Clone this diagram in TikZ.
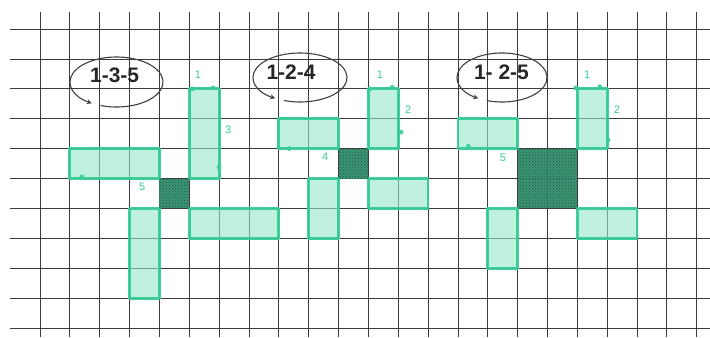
\documentclass[tikz,border=0pt]{standalone}
\usepackage{fontspec}
\setmainfont{Liberation Sans}
\usetikzlibrary{arrows.meta,patterns}
\definecolor{gline}{RGB}{55,205,150}
\definecolor{gfill}{RGB}{150,230,200}
\definecolor{gdark}{RGB}{45,140,105}
\definecolor{gdarker}{RGB}{20,90,65}
\definecolor{gridc}{RGB}{60,60,60}
\begin{document}
\begin{tikzpicture}[x=29.85pt,y=-29.9pt,
  gridline/.style={gridc,line width=0.75pt},
  arm/.style={draw=gline,line width=2.8pt,fill=gfill,fill opacity=0.6,draw opacity=0.95,line join=round},
  core/.style={fill=gdark,fill opacity=0.92},
  corepat/.style={pattern=crosshatch dots,pattern color=gdarker},
  title/.style={font=\fontsize{21}{21}\selectfont\bfseries,text=black!85,inner sep=0pt},
  loopline/.style={black!75,line width=1.1pt,-{Stealth[length=5pt,width=5pt]}},
  num/.style={font=\fontsize{11}{11}\selectfont,text=gline,inner sep=0pt},
  tick/.style={fill=gline,opacity=0.9}
]
\useasboundingbox (-1.340,-0.970) rectangle (22.445,10.301);
\fill[white] (-1.340,-0.970) rectangle (22.445,10.301);

% grid
\foreach \k in {0,...,22} \draw[gridline] (\k,-0.57) -- (\k,10.301);
\foreach \r in {0,...,10} \draw[gridline] (-1.005,\r) -- (22.445,\r);

% ---------- figure 1 : 1-3-5
\filldraw[arm] (5,2) rectangle (6,5);
\filldraw[arm] (1,4) rectangle (4,5);
\filldraw[arm] (3,6) rectangle (4,9);
\filldraw[arm] (5,6) rectangle (8,7);
\fill[core] (4,5) rectangle (5,6);
\fill[corepat] (4,5) rectangle (5,6);

% ---------- figure 2 : 1-2-4
\filldraw[arm] (11,2) rectangle (12,4);
\filldraw[arm] (8,3) rectangle (10,4);
\filldraw[arm] (9,5) rectangle (10,7);
\filldraw[arm] (11,5) rectangle (13,6);
\fill[core] (10,4) rectangle (11,5);
\fill[corepat] (10,4) rectangle (11,5);

% ---------- figure 3 : 1-2-5
\filldraw[arm] (18,2) rectangle (19,4);
\filldraw[arm] (14,3) rectangle (16,4);
\filldraw[arm] (15,6) rectangle (16,8);
\filldraw[arm] (18,6) rectangle (20,7);
\fill[core] (16,4) rectangle (18,6);
\fill[corepat] (16,4) rectangle (18,6);

% small edge markers
\foreach \p in {(5.1,2),(5.8,1.97),(6,4.62),(1.4,4.95),
                (11.05,2),(11.8,1.95),(12.1,3.45),(8.35,4),
                (17.95,1.97),(18.75,1.93),(19.03,3.71),(14.35,3.92)}
  \fill[tick] \p circle (2.4pt);

% green edge numbers
\node[num] (n11) at (5.29,1.54) {1};
\node[num] (n13) at (6.30,3.38) {3};
\node[num] (n15) at (3.42,5.28) {5};
\node[num] (n21) at (11.39,1.54) {1};
\node[num] (n22) at (12.33,2.71) {2};
\node[num] (n24) at (9.55,4.28) {4};
\node[num] (n31) at (18.33,1.54) {1};
\node[num] (n32) at (19.33,2.71) {2};
\node[num] (n35) at (15.51,4.31) {5};

% titles with circular arrows
\node[title] (t1) at (2.50,1.555) {1-3-5};
\node[title] (t2) at (8.41,1.428) {1-2-4};
\node[title] (t3) at (15.46,1.455) {1- 2-5};
\coordinate (c1) at (2.563,1.773);
\coordinate (c2) at (8.710,1.622);
\coordinate (c3) at (15.477,1.622);
\draw[loopline] ([shift={(250:46.5pt and 25pt)}]c1) arc[start angle=250,end angle=598,x radius=46.5pt,y radius=25pt];
\draw[loopline] ([shift={(250:47pt and 24.5pt)}]c2) arc[start angle=250,end angle=598,x radius=47pt,y radius=24.5pt];
\draw[loopline] ([shift={(250:45pt and 24.5pt)}]c3) arc[start angle=250,end angle=598,x radius=45pt,y radius=24.5pt];
\end{tikzpicture}
\end{document}
